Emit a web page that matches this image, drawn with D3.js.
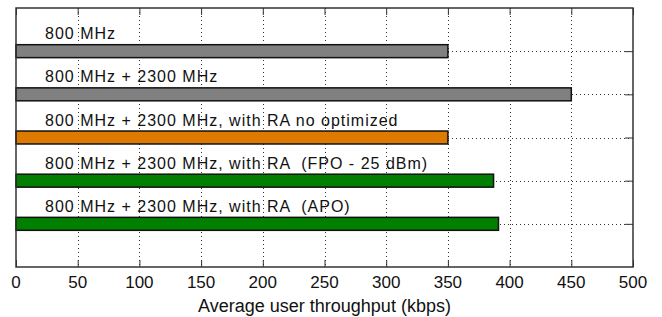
<!doctype html>
<html>
  <head>
    <meta charset="utf-8">
    <title>Average user throughput</title>
    <script src="https://cdnjs.cloudflare.com/ajax/libs/d3/7.8.5/d3.min.js"></script>
    <style>
      body { margin: 0; background: #fff; }
      svg text { font-family: "Liberation Sans", Arial, sans-serif; fill: #111; }
    </style>
  </head>
  <body>
    <div id="chart"></div>
    <script>
      // data
      const categories = [
        "800 MHz",
        "800 MHz + 2300 MHz",
        "800 MHz + 2300 MHz, with RA no optimized",
        "800 MHz + 2300 MHz, with RA  (FPO - 25 dBm)",
        "800 MHz + 2300 MHz, with RA  (APO)"
      ];
      const throughput = [350, 450, 350, 387, 391];
      const barColors = ["#808080", "#808080", "#df7a00", "#007f00", "#007f00"];
      const xTicks = [0, 50, 100, 150, 200, 250, 300, 350, 400, 450, 500];
      const xTitle = "Average user throughput (kbps)";

      const W = 662, H = 317;
      const margin = {top: 8, right: 29, bottom: 50, left: 16};
      const iw = W - margin.left - margin.right;
      const ih = H - margin.top - margin.bottom;

      const svg = d3.select('#chart').append('svg')
        .attr('width', W)
        .attr('height', H);

      const g = svg.append('g')
        .attr('transform', `translate(${margin.left},${margin.top})`);

      const x = d3.scaleLinear().domain([0, 500]).range([0, iw]);
      // categories sit at 1..5 from the top, axis runs 0..6
      const y = d3.scaleLinear().domain([0, 6]).range([0, ih]);
      const barH = y(0.3) - y(0);

      g.append('rect')
        .attr('width', iw).attr('height', ih)
        .attr('fill', '#fff');

      // dotted grid
      g.selectAll('.vgrid')
        .data(xTicks.slice(1, -1))
        .join('line')
        .attr('class', 'vgrid')
        .attr('x1', d => Math.round(x(d)) + 0.5)
        .attr('x2', d => Math.round(x(d)) + 0.5)
        .attr('y1', 0).attr('y2', ih)
        .attr('stroke', '#333')
        .attr('stroke-dasharray', '1,3');

      g.selectAll('.hgrid')
        .data(categories)
        .join('line')
        .attr('class', 'hgrid')
        .attr('x1', 0).attr('x2', iw)
        .attr('y1', (d, i) => Math.round(y(i + 1)) + 0.5)
        .attr('y2', (d, i) => Math.round(y(i + 1)) + 0.5)
        .attr('stroke', '#333')
        .attr('stroke-dasharray', '1,3');

      // tick marks (inside)
      const tickLen = 7;
      const xAxisTop = d3.axisBottom(x).tickValues(xTicks).tickSize(tickLen).tickFormat('');
      const xAxisBot = d3.axisTop(x).tickValues(xTicks).tickSize(tickLen).tickFormat('');
      const yAxisRight = d3.axisLeft(y).tickValues([1, 2, 3, 4, 5]).tickSize(tickLen + 1).tickFormat('');

      [g.append('g').call(xAxisTop),
       g.append('g').attr('transform', `translate(0,${ih})`).call(xAxisBot),
       g.append('g').attr('transform', `translate(${iw},0)`).call(yAxisRight)]
        .forEach(a => {
          a.select('.domain').remove();
          a.selectAll('line').attr('stroke', '#333');
        });

      // bars
      g.selectAll('.bar')
        .data(throughput)
        .join('rect')
        .attr('class', 'bar')
        .attr('x', x(0))
        .attr('y', (d, i) => y(i + 1) - barH / 2)
        .attr('width', d => x(d) - x(0))
        .attr('height', barH)
        .attr('fill', (d, i) => barColors[i])
        .attr('stroke', '#111')
        .attr('stroke-width', 1.5);

      // labels above bars
      g.selectAll('.lbl')
        .data(categories)
        .join('text')
        .attr('class', 'lbl')
        .attr('x', 29)
        .attr('y', (d, i) => y(i + 1) - 12)
        .attr('font-size', 16)
        .attr('letter-spacing', 1)
        .attr('xml:space', 'preserve')
        .style('white-space', 'pre')
        .text(d => d);

      // box
      g.append('rect')
        .attr('width', iw).attr('height', ih)
        .attr('fill', 'none')
        .attr('stroke', '#333')
        .attr('stroke-width', 1.5);

      // x tick labels
      g.selectAll('.xlab')
        .data(xTicks)
        .join('text')
        .attr('class', 'xlab')
        .attr('x', d => x(d))
        .attr('y', ih + 21)
        .attr('text-anchor', 'middle')
        .attr('font-size', 17)
        .text(d => d);

      g.append('text')
        .attr('x', iw / 2)
        .attr('y', ih + 45)
        .attr('text-anchor', 'middle')
        .attr('font-size', 18)
        .text(xTitle);
    </script>
  </body>
</html>
